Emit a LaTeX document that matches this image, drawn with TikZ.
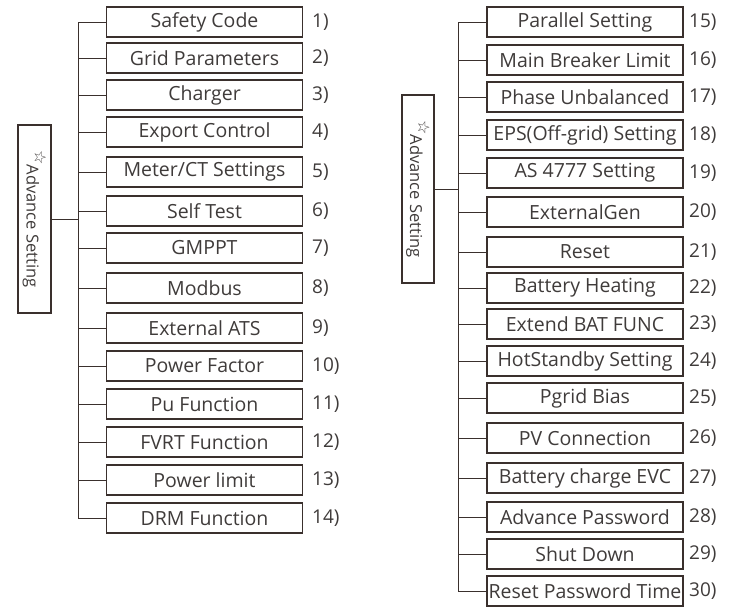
\documentclass[tikz,border=0pt]{standalone}
\usepackage{fontspec}
\setmainfont{Open Sans}
\newfontfamily\symfont{DejaVu Sans}
\definecolor{linec}{HTML}{3A302D}
\definecolor{textc}{HTML}{3F3B3A}
\begin{document}
\begin{tikzpicture}[x=1pt,y=1pt,
 item/.style={draw=linec, line width=1.1pt, minimum width=196pt, minimum height=30pt, inner sep=0pt, text=textc, font=\fontsize{19.5}{19.5}\selectfont},
 num/.style={anchor=west, text=textc, inner sep=0pt, font=\fontsize{19}{19}\selectfont},
 conn/.style={draw=linec, line width=0.8pt},
 rootbox/.style={draw=linec, line width=1.1pt, minimum width=188pt, minimum height=33pt, inner sep=0pt, rotate=-90, text=textc, font=\fontsize{16.5}{16.5}\selectfont}]
\useasboundingbox (0,0) rectangle (734,-606);
% left tree
\node[rootbox] (rootL) at (34.5,-219) {\raisebox{0.9ex}{\symfont\fontsize{16}{16}\selectfont ☆}Advance Setting};
\coordinate (trunkL) at (78,-222);
\foreach \y/\t/\n [count=\i] in {22/Safety Code/1), 58/Grid Parameters/2), 95/Charger/3), 132/Export Control/4), 172/{Meter/CT Settings}/5), 211/Self Test/6), 248/GMPPT/7), 288/Modbus/8), 328/External ATS/9), 366/Power Factor/10), 404/Pu Function/11), 442/FVRT Function/12), 480/Power limit/13), 518/DRM Function/14)}{
  \node[item] (L\i) at (204.5,-\y) {\t};
  \node[num] (NL\i) at (312,-\y) {\n};
  \draw[conn] (L\i.west) -- (L\i.west -| trunkL);
}
\draw[conn] (L1.west -| trunkL) -- (L14.west -| trunkL);
\draw[conn] (rootL.north) -- (rootL.north -| trunkL);
% right tree
\node[rootbox, minimum height=32pt] (rootR) at (418,-189) {\raisebox{0.9ex}{\symfont\fontsize{16}{16}\selectfont ☆}Advance Setting};
\coordinate (trunkR) at (458,-192);
\foreach \y/\t/\n [count=\i] in {22/Parallel Setting/15), 60/Main Breaker Limit/16), 97/Phase Unbalanced/17), 135/EPS(Off-grid) Setting/18), 173/AS 4777 Setting/19), 212/ExternalGen/20), 252/Reset/21), 288/Battery Heating/22), 324/Extend BAT FUNC/23), 361/HotStandby Setting/24), 398/Pgrid Bias/25), 438/PV Connection/26), 478/Battery charge EVC/27), 517/Advance Password/28), 554/Shut Down/29), 591/Reset Password Time/30)}{
  \node[item] (R\i) at (585,-\y) {\t};
  \node[num] (NR\i) at (689,-\y) {\n};
  \draw[conn] (R\i.west) -- (R\i.west -| trunkR);
}
\draw[conn] (R1.west -| trunkR) -- (R16.west -| trunkR);
\draw[conn] (rootR.north) -- (rootR.north -| trunkR);
\end{tikzpicture}
\end{document}
